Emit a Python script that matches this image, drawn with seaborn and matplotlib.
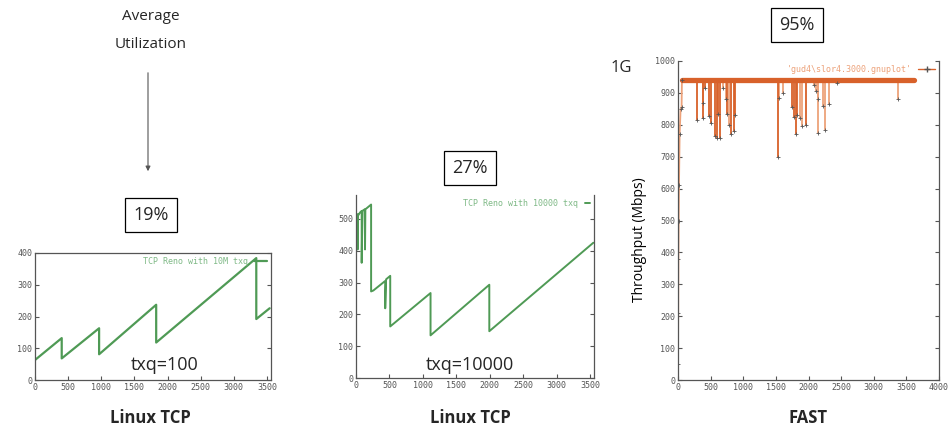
import matplotlib
matplotlib.use("Agg")
import matplotlib.pyplot as plt
from matplotlib.lines import Line2D
import pandas as pd
import seaborn as sns

# --- data ---
reno100_t = [0, 403, 403, 967, 967, 1828, 1828, 3338, 3338, 3540]
reno100_mbps = [63, 132, 68, 163, 81, 237, 118, 384, 192, 226]

reno10000_t = [0, 10, 25, 25, 30, 60, 85, 85, 95, 130, 135, 140, 226, 226, 260,
               437, 437, 450, 512, 512, 1115, 1115, 1994, 1994, 3550]
reno10000_mbps = [488, 510, 515, 404, 510, 520, 525, 362, 525, 530, 404, 530, 545, 272, 275,
                  305, 219, 310, 321, 162, 267, 134, 293, 147, 425]

fast_ramp_t = [0, 3, 6, 10, 15, 25, 40, 55, 60]
fast_ramp_mbps = [50, 210, 380, 500, 610, 770, 850, 855, 940]
fast_level = 940
fast_span = [60, 3620]
fast_dip_t = [294, 376, 387, 420, 479, 500, 567, 593, 619, 644, 690, 737, 758, 789, 809,
              851, 876, 1531, 1545, 1613, 1753, 1778, 1804, 1830, 1871, 1907, 1959,
              2077, 2113, 2139, 2149, 2216, 2252, 2320, 2438, 3376]
fast_dip_mbps = [815, 820, 867, 915, 828, 805, 765, 760, 835, 760, 915, 880, 835, 800, 770,
                 780, 830, 700, 885, 900, 855, 825, 770, 830, 820, 795, 800,
                 925, 905, 880, 775, 860, 785, 865, 930, 880]
fast_dip_light = [0, 0, 1, 0, 0, 0, 0, 0, 0, 0, 1, 1, 0, 1, 0,
                  0, 0, 0, 1, 1, 0, 0, 0, 0, 1, 1, 0,
                  1, 1, 1, 1, 1, 1, 1, 1, 1]

utilization = ["19%", "27%", "95%"]
queue_labels = ["txq=100", "txq=10000"]
panel_titles = ["Linux TCP", "Linux TCP", "FAST"]

GREEN = "#4f9a55"
GREEN_LIGHT = "#7fb986"
ORANGE = "#d8612a"
ORANGE_LIGHT = "#eda27a"
TICK = "#555555"

sns.set_style("ticks")
plt.rcParams["font.family"] = ["Open Sans", "DejaVu Sans"]

fig = plt.figure(figsize=(9.5, 4.3), dpi=100)


def px(x, y):
    return x / 950, 1 - y / 430


def style_axes(ax, top=True):
    ax.tick_params(direction="in", length=3, width=0.8, right=True, top=False,
                   colors=TICK, labelsize=6, pad=2)
    for lbl in ax.get_xticklabels() + ax.get_yticklabels():
        lbl.set_family("DejaVu Sans Mono")
    for name, sp in ax.spines.items():
        sp.set_color("#555555")
        sp.set_linewidth(0.9)
    ax.spines["top"].set_visible(top)
    ax.set_xlabel("")
    ax.set_ylabel("")


# panel 1
ax1 = fig.add_axes([35 / 950, 50 / 430, 236 / 950, 127 / 430])
sns.lineplot(x=reno100_t, y=reno100_mbps, sort=False, estimator=None, ax=ax1,
             color=GREEN, lw=1.6, label="TCP Reno with 10M txq")
ax1.set_xlim(0, 3560)
ax1.set_ylim(0, 400)
ax1.set_xticks(range(0, 3501, 500))
ax1.set_yticks(range(0, 401, 100))
style_axes(ax1, top=True)
ax1.legend(loc="upper right", frameon=False, markerfirst=False,
           handlelength=1.5, labelcolor=GREEN_LIGHT, borderaxespad=0.1,
           prop={"family": "DejaVu Sans Mono", "size": 6})

# panel 2
ax2 = fig.add_axes([356 / 950, 52 / 430, 238 / 950, 183 / 430])
sns.lineplot(x=reno10000_t, y=reno10000_mbps, sort=False, estimator=None, ax=ax2,
             color=GREEN, lw=1.4, label="TCP Reno with 10000 txq")
ax2.set_xlim(0, 3560)
ax2.set_ylim(0, 575)
ax2.set_xticks(range(0, 3501, 500))
ax2.set_yticks(range(0, 501, 100))
style_axes(ax2, top=False)
ax2.legend(loc="upper right", frameon=False, markerfirst=False,
           handlelength=0.6, labelcolor=GREEN_LIGHT, borderaxespad=0.1,
           prop={"family": "DejaVu Sans Mono", "size": 6})

# panel 3
ax3 = fig.add_axes([678 / 950, 50 / 430, 261 / 950, 319 / 430])
rows = []
for i, (t, v, lt) in enumerate(zip(fast_dip_t, fast_dip_mbps, fast_dip_light)):
    rows.append({"t": t, "mbps": fast_level, "id": i, "light": lt})
    rows.append({"t": t, "mbps": v, "id": i, "light": lt})
dips = pd.DataFrame(rows)
for lt, col in [(1, ORANGE_LIGHT), (0, ORANGE)]:
    sub = dips[dips["light"] == lt]
    sns.lineplot(data=sub, x="t", y="mbps", units="id", estimator=None, sort=False,
                 ax=ax3, color=col, lw=1.3)
sns.lineplot(x=fast_ramp_t, y=fast_ramp_mbps, sort=False, estimator=None, ax=ax3,
             color=ORANGE_LIGHT, lw=1.3)
sns.lineplot(x=fast_span, y=[fast_level] * len(fast_span), ax=ax3, color=ORANGE, lw=3.8)
sns.scatterplot(x=fast_dip_t + fast_ramp_t, y=fast_dip_mbps + fast_ramp_mbps, ax=ax3,
                marker="+", color="#555555", s=8, linewidth=0.6, zorder=5)
ax3.set_xlim(0, 4000)
ax3.set_ylim(0, 1000)
ax3.set_xticks(range(0, 4001, 500))
ax3.set_yticks(range(0, 1001, 100))
style_axes(ax3, top=False)
ax3.legend(handles=[Line2D([], [], color=ORANGE, marker="+", lw=1, ms=4, mec="#555555")],
           labels=["'gud4\\slor4.3000.gnuplot'"], loc="upper right", frameon=False,
           markerfirst=False, handlelength=2, labelcolor=ORANGE_LIGHT, borderaxespad=0.1,
           prop={"family": "DejaVu Sans Mono", "size": 6})
ax3.set_ylabel("Throughput (Mbps)", fontsize=10, color="black", labelpad=4)
ax3.yaxis.set_label_coords(-0.12, 0.44)

# annotations
fig.text(*px(151, 17), "Average", ha="center", va="center", fontsize=11)
fig.text(*px(151, 44), "Utilization", ha="center", va="center", fontsize=11)
fig.add_artist(matplotlib.patches.FancyArrowPatch(
    px(148, 70), px(148, 174), transform=fig.transFigure, arrowstyle="-|>",
    mutation_scale=7, color="#555555", lw=0.8))

box = dict(boxstyle="square,pad=0.45", fc="white", ec="black", lw=0.9)
for (x, y), s in zip([(151, 215), (470, 168), (797, 25)], utilization):
    fig.text(*px(x, y), s, ha="center", va="center", fontsize=13, bbox=box)

for (x, y), s in zip([(165, 365), (470, 365)], queue_labels):
    fig.text(*px(x, y), s, ha="center", va="center", fontsize=13)

for (x, y), s in zip([(150, 418), (470, 418), (808, 418)], panel_titles):
    fig.text(*px(x, y), s, ha="center", va="center", fontsize=12, fontweight="bold")

fig.text(*px(621, 68), "1G", ha="center", va="center", fontsize=12)

fig.savefig("out.png", dpi=100)
